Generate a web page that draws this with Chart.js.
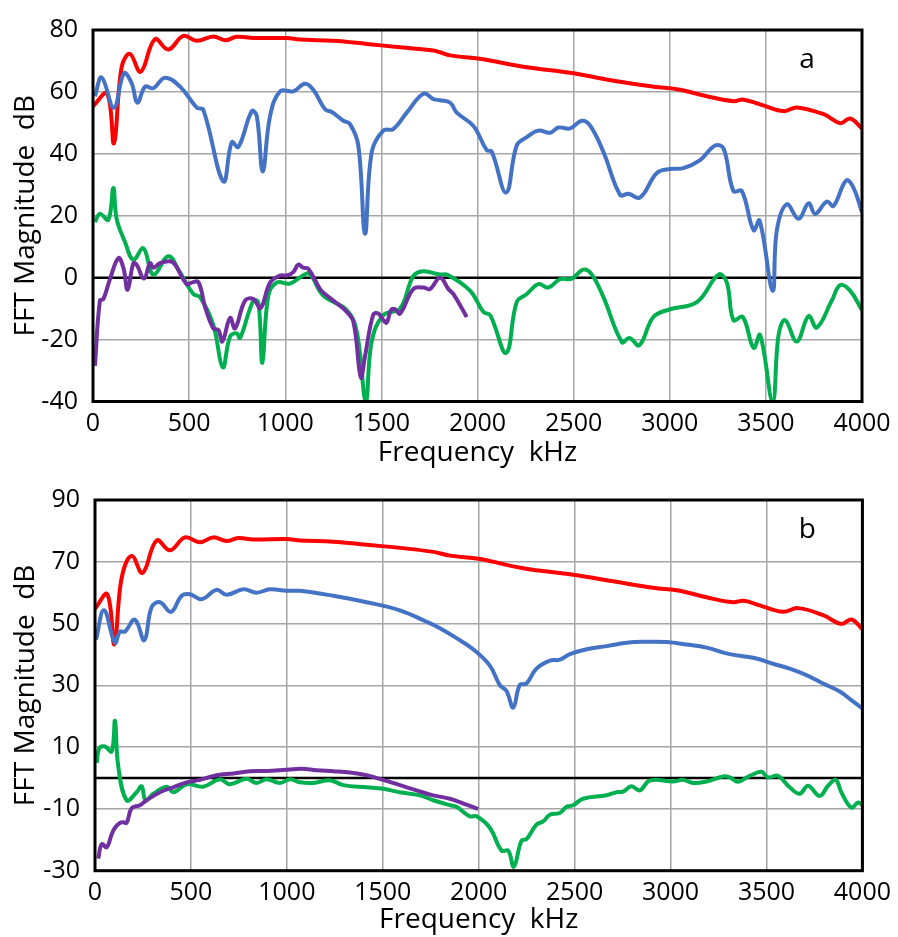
<!DOCTYPE html>
<html>
<head>
<meta charset="utf-8">
<script src="https://cdn.jsdelivr.net/npm/chart.js@4.4.0/dist/chart.umd.min.js"></script>
<style>
  body { margin: 0; background: #fff; }
  .panel { position: absolute; left: 0; }
</style>
</head>
<body>
<div class="panel" style="top:0"><canvas id="chart-a" width="898" height="470"></canvas></div>
<div class="panel" style="top:470px"><canvas id="chart-b" width="898" height="467"></canvas></div>
<script>
// Panel a: frequency (kHz) and magnitude (dB) per trace
const freqRedA = [0, 73, 109, 149, 192, 248, 322, 392, 470, 540, 626, 687, 748, 834, 1008, 1077, 1250, 1424, 1597, 1771, 1805, 1858, 2013, 2239, 2499, 2707, 2915, 3054, 3193, 3331, 3383, 3470, 3592, 3661, 3800, 3887, 3938, 4000];
const magRedA = [55.4, 59.5, 43.4, 68, 72.3, 66.5, 77, 73.7, 78.1, 76.5, 77.9, 76.7, 77.8, 77.4, 77.4, 76.9, 76.5, 75.5, 74.4, 73.4, 72.8, 71.8, 70.7, 68.1, 66, 63.6, 61.7, 60.7, 58.6, 57, 57.5, 56, 53.8, 55, 52.8, 49.9, 51.4, 48.2];

const freqBlueA = [10, 45, 109, 161, 201, 231, 271, 314, 375, 453, 540, 574, 678, 722, 756, 826, 852, 883, 921, 973, 1042, 1103, 1146, 1207, 1242, 1302, 1337, 1380, 1415, 1450, 1510, 1562, 1632, 1719, 1771, 1805, 1858, 1892, 1979, 2048, 2074, 2149, 2204, 2256, 2317, 2378, 2421, 2482, 2543, 2586, 2655, 2742, 2785, 2846, 2933, 3002, 3071, 3158, 3236, 3280, 3331, 3375, 3436, 3467, 3535, 3557, 3609, 3670, 3722, 3757, 3817, 3852, 3918, 3956, 4000];
const magBlueA = [58.6, 64.7, 54.9, 66, 62.8, 56.5, 61.7, 61.2, 64.6, 61.7, 54.9, 54.2, 31.1, 43.8, 42.2, 53.8, 52.2, 34.3, 52.2, 60.2, 60.2, 62.6, 60.7, 54.4, 53.5, 50.7, 49.6, 42.7, 14.2, 40.6, 47.5, 48, 53.3, 59.4, 57.7, 57.3, 56.5, 53.3, 49, 41.2, 40.7, 27.5, 42.7, 45.4, 47.5, 46.8, 48.5, 48.2, 50.7, 49.1, 40.6, 26.7, 27.1, 25.9, 33.8, 35.1, 35.4, 38, 42.7, 41.7, 28, 28, 15.3, 18.5, -4.2, 15.3, 23.7, 19, 24, 20.6, 24.6, 23.2, 31.4, 29, 21.1];

const freqGreenA = [10, 36, 80, 106, 123, 166, 210, 262, 314, 392, 453, 522, 557, 626, 675, 713, 748, 765, 834, 860, 881, 912, 956, 1025, 1112, 1138, 1198, 1320, 1372, 1419, 1450, 1510, 1597, 1666, 1719, 1805, 1840, 1961, 2031, 2066, 2149, 2204, 2256, 2317, 2369, 2430, 2491, 2551, 2595, 2655, 2751, 2790, 2842, 2915, 3002, 3141, 3254, 3297, 3331, 3380, 3436, 3470, 3535, 3566, 3600, 3661, 3722, 3765, 3843, 3887, 3938, 4000];
const magGreenA = [18, 20.6, 18.7, 29, 19, 11.6, 5.8, 9.5, 1, 6.9, 1.6, -5.3, -6.3, -15.3, -29, -19, -18, -19.5, -7.4, -8, -27.5, -5.8, -1.6, -1.9, 1.4, 0.4, -5.8, -10.5, -17.4, -40, -20.6, -12.1, -10, 0.5, 2.1, 1, 1, -4.2, -11.1, -12.1, -24.3, -7.9, -5.3, -2.1, -3.2, -0.5, -0.3, 2.6, 1, -6.3, -20.8, -19.5, -21.8, -12.7, -10.2, -7.9, 1, -1.6, -13.7, -12.7, -22.7, -18.5, -40, -18.5, -13.7, -20.6, -12.4, -16.1, -7.4, -2.4, -4.2, -10.5];

const freqPurpleA = [10, 36, 54, 88, 132, 158, 180, 210, 227, 265, 297, 314, 349, 401, 427, 487, 513, 548, 583, 626, 652, 673, 713, 739, 791, 834, 872, 921, 973, 1008, 1042, 1068, 1094, 1120, 1181, 1207, 1250, 1311, 1354, 1393, 1415, 1458, 1484, 1510, 1528, 1550, 1571, 1597, 1666, 1719, 1753, 1805, 1849, 1875, 1944];
const magPurpleA = [-28.5, -7.4, -6.9, -0.5, 6.3, 3.2, -3.9, 4.7, 4.2, -0.3, 4.7, 3.2, 4.7, 5.3, 4.2, -2.1, -1.6, -1.4, -9.5, -16.4, -16.9, -20.6, -13, -16.4, -7.4, -6.9, -9.8, -1.6, 0.7, 0.7, 1.8, 4.2, 3.2, 2.9, -3.7, -5.3, -7.4, -10.5, -14.2, -32.2, -25.3, -11.9, -11.6, -13.7, -14.5, -10.5, -10.2, -11.6, -3.7, -3.2, -3.7, 0, -3.7, -5.3, -12.7];

// Panel b
const freqRedB = [0, 64, 101, 139, 191, 248, 321, 391, 469, 547, 616, 686, 747, 825, 999, 1068, 1242, 1416, 1589, 1763, 1850, 2006, 2232, 2492, 2700, 2909, 3048, 3187, 3326, 3382, 3465, 3586, 3664, 3795, 3890, 3943, 4000];
const magRedB = [54.8, 59.5, 43.3, 64.8, 71.9, 66.4, 76.9, 73.7, 77.9, 76.3, 77.9, 76.7, 77.7, 77.2, 77.4, 76.9, 76.5, 75.5, 74.5, 73.2, 72, 70.9, 67.9, 65.8, 63.7, 61.6, 60.6, 58.5, 56.9, 57.4, 55.9, 53.8, 55, 52.7, 49.9, 51.3, 48.2];

const freqBlueB = [5, 47, 104, 130, 156, 208, 257, 295, 339, 396, 452, 495, 556, 634, 686, 773, 842, 912, 999, 1068, 1242, 1416, 1589, 1728, 1798, 1884, 1971, 2058, 2110, 2145, 2180, 2214, 2249, 2301, 2371, 2423, 2475, 2562, 2666, 2770, 2874, 2979, 3083, 3187, 3308, 3448, 3534, 3621, 3708, 3795, 3882, 3951, 4000];
const magBlueB = [44.8, 54.3, 43.8, 47.4, 47.4, 51.3, 44.6, 55.3, 56.9, 53.8, 59, 59.5, 57.9, 60.9, 59.3, 61.1, 60, 61.1, 60.6, 60.6, 59, 56.9, 54.3, 50.6, 48.5, 45.3, 41.7, 36.4, 30.1, 28.2, 22.8, 30.1, 30.6, 35.4, 38, 38.3, 40.1, 41.7, 42.7, 43.8, 44.1, 44, 43.2, 42.2, 40.1, 38.7, 37, 35.4, 33.3, 30.6, 28, 24.8, 22.5];

const freqGreenB = [9, 22, 52, 87, 104, 121, 165, 217, 243, 264, 304, 373, 408, 478, 564, 651, 703, 790, 842, 894, 964, 1016, 1068, 1137, 1224, 1294, 1416, 1502, 1589, 1693, 1763, 1850, 1884, 1954, 1989, 2058, 2119, 2154, 2183, 2223, 2249, 2301, 2336, 2371, 2423, 2458, 2492, 2544, 2666, 2718, 2752, 2796, 2840, 2892, 3013, 3066, 3118, 3187, 3274, 3309, 3352, 3413, 3474, 3508, 3560, 3621, 3673, 3717, 3777, 3821, 3861, 3890, 3943, 3977, 4000];
const magGreenB = [4.9, 9.6, 10.2, 8.6, 18.5, 3.9, -7.2, -4.6, -2.7, -7.2, -5.1, -2.8, -4.6, -2, -2.8, -0.4, -2, -0.2, -1.6, -0.4, -1.6, -0.4, -1.4, -1.6, -0.7, -2.3, -3, -3.5, -4.6, -5.6, -7.2, -8.8, -9.3, -12.4, -12.4, -16.1, -23.5, -23.5, -28.7, -20.3, -19.8, -15.1, -14, -11.9, -11.3, -9.3, -8.8, -6.7, -5.6, -4.6, -4.4, -2.7, -4, -0.8, -1.1, -0.6, -1.6, -1.1, 0.5, 0.2, -1.2, 0.7, 2, 0.2, 0.7, -3, -5.1, -2.5, -5.8, -2.5, -0.6, -4.6, -9.6, -7.9, -8.8];

const freqPurpleB = [17, 35, 61, 87, 104, 130, 147, 165, 191, 234, 269, 339, 408, 478, 547, 634, 721, 808, 894, 981, 1077, 1155, 1242, 1329, 1416, 1502, 1589, 1676, 1763, 1850, 1937, 1997];
const magPurpleB = [-26.1, -21.4, -22.4, -18.2, -16.1, -14.5, -14.3, -14.5, -9.8, -8.8, -7.2, -4.6, -3, -1.4, -0.6, 0.9, 1.5, 2.2, 2.3, 2.6, 3, 2.5, 2.2, 1.8, 0.9, -0.6, -2.3, -4, -5.6, -6.7, -8.6, -10];

const freqTicks = [0, 500, 1000, 1500, 2000, 2500, 3000, 3500, 4000];
const magTicksA = [-40, -20, 0, 20, 40, 60, 80];
const magTicksB = [-30, -10, 10, 30, 50, 70, 90];

Chart.defaults.font.family = "'Open Sans', sans-serif";
Chart.defaults.color = '#000';

function pairUp(xs, ys) {
    return xs.map((x, i) => ({ x: x, y: ys[i] }));
}

function trace(label, xs, ys, color) {
    return {
        label: label,
        data: pairUp(xs, ys),
        borderColor: color,
        borderWidth: 4,
        pointRadius: 0,
        tension: 0.4,
        fill: false
    };
}

// frame round the plot, black zero line and the panel letter
const framePlugin = {
    id: 'frame',
    beforeDatasetsDraw(chart) {
        const { ctx, chartArea: a, scales } = chart;
        const y0 = scales.y.getPixelForValue(0);
        ctx.save();
        ctx.strokeStyle = '#000';
        ctx.lineWidth = 2.5;
        ctx.beginPath();
        ctx.moveTo(a.left, y0);
        ctx.lineTo(a.right, y0);
        ctx.stroke();
        ctx.restore();
    },
    afterDraw(chart, args, opts) {
        const { ctx, chartArea: a } = chart;
        ctx.save();
        ctx.strokeStyle = '#000';
        ctx.lineWidth = 3;
        ctx.strokeRect(a.left, a.top, a.right - a.left, a.bottom - a.top);
        ctx.font = "28px 'Open Sans'";
        ctx.fillStyle = '#000';
        ctx.textAlign = 'center';
        ctx.textBaseline = 'middle';
        ctx.fillText(opts.tag, a.right - 55, a.top + 30);
        ctx.restore();
    }
};

function buildChart(id, tag, datasets, yTicks, yWidth, xHeight, pad) {
    const ctx = document.getElementById(id).getContext('2d');
    return new Chart(ctx, {
        type: 'line',
        data: { datasets: datasets },
        plugins: [framePlugin],
        options: {
            responsive: false,
            animation: false,
            layout: { padding: pad },
            plugins: {
                legend: { display: false },
                tooltip: { enabled: false },
                frame: { tag: tag }
            },
            scales: {
                x: {
                    type: 'linear',
                    min: freqTicks[0],
                    max: freqTicks[freqTicks.length - 1],
                    afterBuildTicks: s => { s.ticks = freqTicks.map(v => ({ value: v })); },
                    ticks: { font: { size: 25 }, padding: 7, maxRotation: 0, callback: v => String(v) },
                    grid: { color: '#a6a6a6', lineWidth: 1.5, drawTicks: false },
                    border: { display: false },
                    title: { display: true, text: 'Frequency  kHz', font: { size: 28 }, padding: { top: 0, bottom: 0 } },
                    afterFit: s => { s.height = xHeight; }
                },
                y: {
                    min: yTicks[0],
                    max: yTicks[yTicks.length - 1],
                    afterBuildTicks: s => { s.ticks = yTicks.map(v => ({ value: v })); },
                    ticks: { font: { size: 25 }, padding: 15, callback: v => String(v) },
                    grid: { color: '#a6a6a6', lineWidth: 1.5, drawTicks: false },
                    border: { display: false },
                    title: { display: true, text: 'FFT Magnitude  dB', font: { size: 28 }, padding: { top: 9, bottom: 0 } },
                    afterFit: s => { s.width = yWidth; }
                }
            }
        }
    });
}

document.addEventListener('DOMContentLoaded', function () {
    buildChart('chart-a', 'a', [
        trace('purple', freqPurpleA, magPurpleA, '#7030a0'),
        trace('green', freqGreenA, magGreenA, '#00b050'),
        trace('blue', freqBlueA, magBlueA, '#4472c4'),
        trace('red', freqRedA, magRedA, '#ff0000')
    ], magTicksA, 93, 68.5, { left: 0, top: 22.5, right: 36, bottom: 0 });

    buildChart('chart-b', 'b', [
        trace('purple', freqPurpleB, magPurpleB, '#7030a0'),
        trace('green', freqGreenB, magGreenB, '#00b050'),
        trace('blue', freqBlueB, magBlueB, '#4472c4'),
        trace('red', freqRedB, magRedB, '#ff0000')
    ], magTicksB, 95, 66.3, { left: 0, top: 20, right: 35.3, bottom: 0 });
});
</script>
</body>
</html>
